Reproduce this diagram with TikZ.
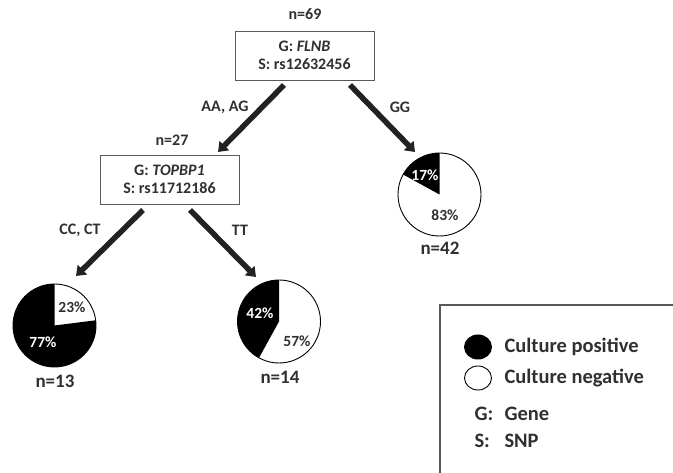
\documentclass[tikz,border=0pt]{standalone}
\usepackage{fontspec}
\setmainfont{Carlito}
\usetikzlibrary{arrows.meta}
\definecolor{txt}{HTML}{303030}
\definecolor{arr}{HTML}{222222}
\begin{document}
\begin{tikzpicture}[x=1pt,y=1pt,
  every node/.style={text=txt,font=\bfseries\fontsize{16}{19}\selectfont},
  splitbox/.style={draw=gray!70!black,line width=0.9pt,minimum width=139pt,minimum height=49pt,align=center,inner sep=0pt},
  branch/.style={draw=arr,line width=5.5pt,-{Triangle[length=9pt,width=13pt]},shorten >=0pt},
  pie/.style={circle,draw=black,line width=0.9pt,minimum size=83pt,inner sep=0pt},
  nlab/.style={font=\bfseries\fontsize{19}{22}\selectfont},
  pct/.style={font=\bfseries\fontsize{15.5}{18}\selectfont},
  wpct/.style={pct,text=white},
  legtxt/.style={anchor=west,font=\bfseries\fontsize{20.5}{24}\selectfont}]
\useasboundingbox (0,0) rectangle (673,-473);
% boxes
\node[splitbox] (b1) at (304.5,-55.5) {G: \textit{FLNB}\\[-1pt]S: rs12632456};
\node (n69) at (305,-14) {n=69};
\node[splitbox] (b2) at (169.5,-179.5) {G: \textit{TOPBP1}\\[-1pt]S: rs11712186};
\node (n27) at (172,-140) {n=27};
% arrow coordinates
\coordinate (s1) at (284,-85);
\coordinate (e1) at (218,-152);
\coordinate (s2) at (350,-85);
\coordinate (e2) at (415,-152);
\coordinate (s3) at (143,-210);
\coordinate (e3) at (76,-276);
\coordinate (s4) at (190,-210);
\coordinate (e4) at (256,-277);
\draw[branch] (s1) -- (e1);
\draw[branch] (s2) -- (e2);
\draw[branch] (s3) -- (e3);
\draw[branch] (s4) -- (e4);
\node (l1) at (225,-107) {AA, AG};
\node (l2) at (400,-107) {GG};
\node (l3) at (80,-230) {CC, CT};
\node (l4) at (240,-230) {TT};
% pie n=42
\fill[black] (439.5,-194.5) -- ++(90:41.5) arc[start angle=90,end angle=151.2,radius=41.5] -- cycle;
\node[pie] (p42) at (439.5,-194.5) {};
\node[wpct] (p42a) at (425,-175) {17\%};
\node[pct] (p42b) at (445,-215) {83\%};
\node[nlab] (n42) at (440,-248) {n=42};
% pie n=13
\fill[black] (54.5,-325.5) -- ++(90:41.5) arc[start angle=90,end angle=367.2,radius=41.5] -- cycle;
\node[pie] (p13) at (54.5,-325.5) {};
\node[pct] (p13a) at (72,-307) {23\%};
\node[wpct] (p13b) at (43,-342) {77\%};
\node[nlab] (n13) at (55,-381) {n=13};
% pie n=14
\fill[black] (279,-321.5) -- ++(90:41.5) arc[start angle=90,end angle=241.2,radius=41.5] -- cycle;
\node[pie] (p14) at (279,-321.5) {};
\node[wpct] (p14a) at (260,-313) {42\%};
\node[pct] (p14b) at (297,-341) {57\%};
\node[nlab] (n14) at (280,-377) {n=14};
% legend
\draw[gray!70!black,line width=1.2pt] (673,-305) -| (440,-473);
\fill[black] (478,-347) ellipse[x radius=14,y radius=12.5];
\draw[black,line width=0.9pt] (478,-378) ellipse[x radius=13.5,y radius=12];
\node[legtxt] (lg1) at (501,-347) {Culture positive};
\node[legtxt] (lg2) at (501,-378) {Culture negative};
\node[legtxt] (lg3) at (471,-414) {G:};
\node[legtxt] (lg4) at (501,-414) {Gene};
\node[legtxt] (lg5) at (471,-441) {S:};
\node[legtxt] (lg6) at (501,-441) {SNP};
\end{tikzpicture}
\end{document}
